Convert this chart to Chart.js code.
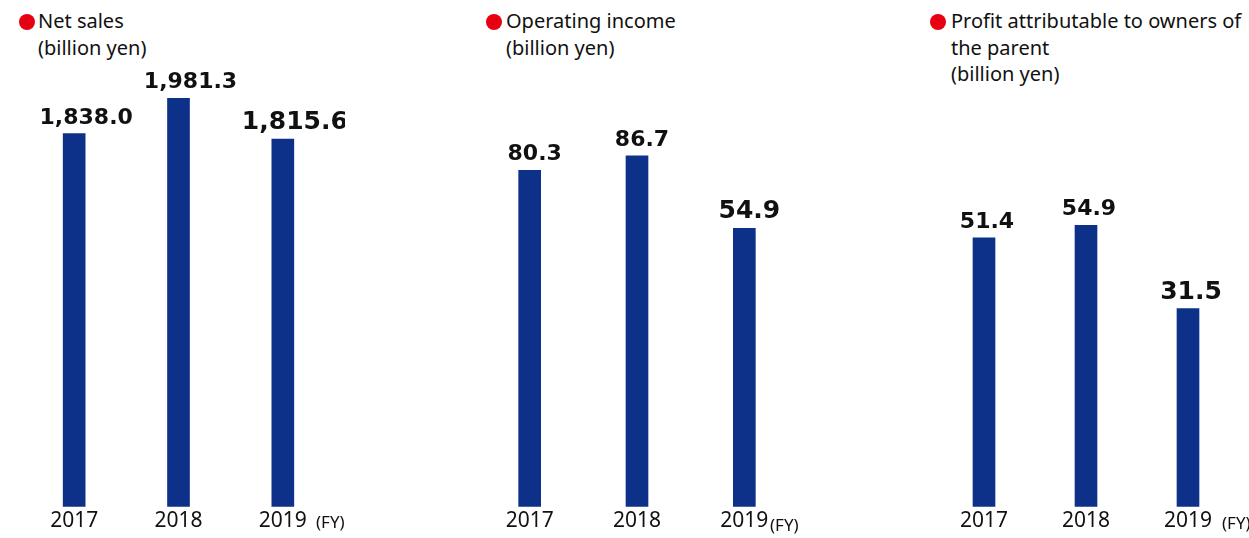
<!DOCTYPE html>
<html>
<head>
<meta charset="utf-8">
<script src="https://cdn.jsdelivr.net/npm/chart.js"></script>
<style>
  body { margin: 0; background: #fff; }
  #wrap { position: relative; width: 1249px; height: 538px; overflow: hidden; font-family: "Noto Sans", sans-serif; color: #111; }
  canvas { position: absolute; top: 0; }
  .ttl { position: absolute; top: 8px; font-size: 20px; line-height: 26.5px; white-space: nowrap; }
  .dot { position: absolute; width: 16px; height: 16px; border-radius: 50%; background: #e60012; top: 14px; }
  .fy { position: absolute; font-size: 17px; line-height: 20px; }
</style>
</head>
<body>
<div id="wrap">
  <span class="dot" style="left:19px"></span>
  <div class="ttl" style="left:38px">Net sales<br>(billion yen)</div>
  <span class="dot" style="left:486px"></span>
  <div class="ttl" style="left:506px">Operating income<br>(billion yen)</div>
  <span class="dot" style="left:930px"></span>
  <div class="ttl" style="left:951px">Profit attributable to owners of<br>the parent<br>(billion yen)</div>

  <canvas id="c1" width="333" height="538" style="left:12px"></canvas>
  <canvas id="c2" width="342" height="538" style="left:466px"></canvas>
  <canvas id="c3" width="326" height="538" style="left:923px"></canvas>

  <div class="fy" style="left:316px;top:512px">(FY)</div>
  <div class="fy" style="left:770px;top:515px">(FY)</div>
  <div class="fy" style="left:1222px;top:513px">(FY)</div>
</div>

<script>
// ---------------- data ----------------
const years = ['2017', '2018', '2019'];
const netSales = [1838.0, 1981.3, 1815.6];
const operatingIncome = [80.3, 86.7, 54.9];
const profitOwners = [51.4, 54.9, 31.5];

const barColor = '#0d3189';

// value labels above each bar, the latest year drawn bigger
const valueLabels = {
    id: 'valueLabels',
    afterDatasetsDraw(chart, args, opts) {
        const ctx = chart.ctx;
        const meta = chart.getDatasetMeta(0);
        const values = chart.data.datasets[0].data;
        ctx.save();
        ctx.fillStyle = '#111';
        ctx.textAlign = 'center';
        ctx.textBaseline = 'alphabetic';
        meta.data.forEach((bar, i) => {
            const big = i === values.length - 1;
            ctx.font = 'bold ' + (big ? 25 : 22) + 'px "DejaVu Sans"';
            const txt = values[i].toLocaleString('en-US', { minimumFractionDigits: 1, maximumFractionDigits: 1 });
            ctx.fillText(txt, bar.x + opts.shift, bar.y - 10);
        });
        ctx.restore();
    }
};

function makeChart(id, values, yMin, yMax, shift) {
    const ctx = document.getElementById(id).getContext('2d');
    return new Chart(ctx, {
        type: 'bar',
        data: {
            labels: years,
            datasets: [{
                data: values,
                backgroundColor: barColor,
                barThickness: 22,
                base: yMin
            }]
        },
        options: {
            responsive: false,
            animation: false,
            layout: { padding: { top: 60, left: 10, right: 10, bottom: 2 } },
            scales: {
                x: {
                    grid: { display: false, drawTicks: false },
                    border: { display: false },
                    ticks: {
                        color: '#111',
                        padding: 2,
                        font: { family: '"Noto Sans"', size: 21 }
                    }
                },
                y: { display: false, min: yMin, max: yMax }
            },
            plugins: {
                legend: { display: false },
                tooltip: { enabled: false },
                valueLabels: { shift: shift }
            }
        },
        plugins: [valueLabels]
    });
}

makeChart('c1', netSales, 317, 2138, 12);
makeChart('c2', operatingIncome, -67.3, 128.7, 5);
makeChart('c3', profitOwners, -24.1, 101.3, 3);
</script>
</body>
</html>
